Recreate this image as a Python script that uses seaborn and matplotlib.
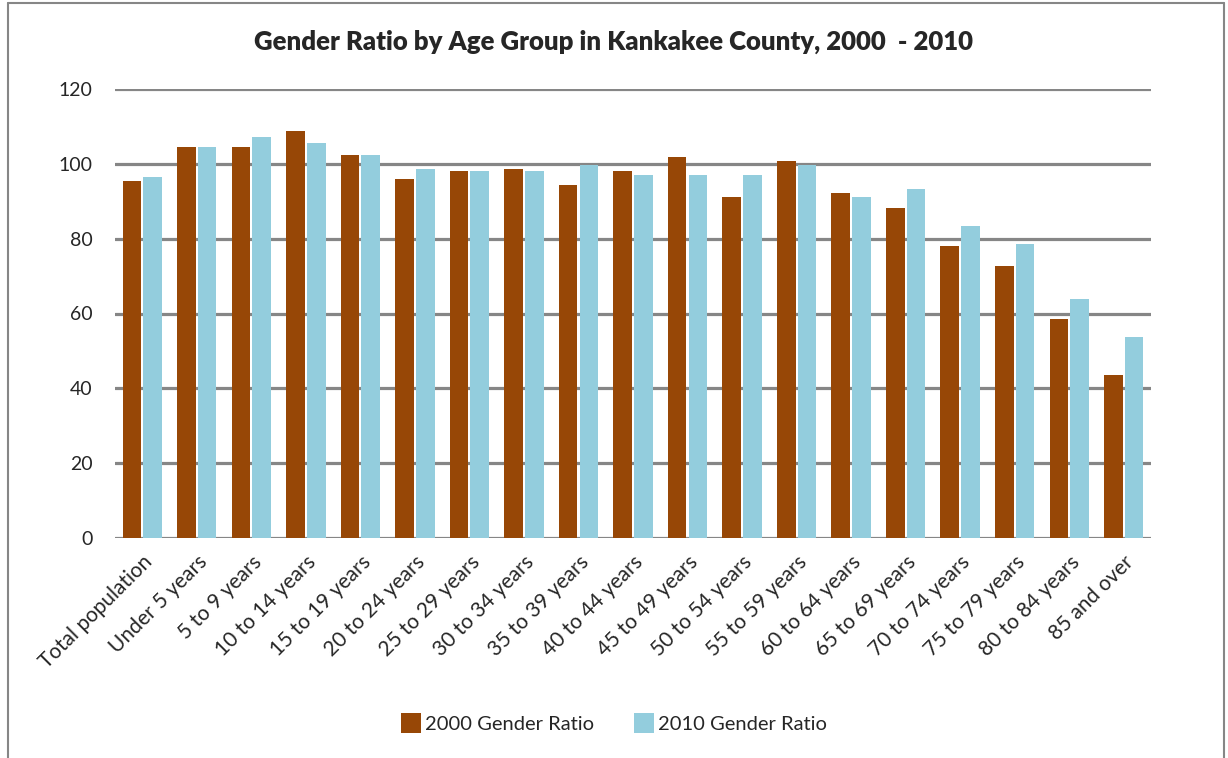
import pandas as pd
import matplotlib.pyplot as plt
import seaborn as sns
from matplotlib.lines import Line2D

# 數據
age_groups = ['Total population', 'Under 5 years', '5 to 9 years', '10 to 14 years',
              '15 to 19 years', '20 to 24 years', '25 to 29 years', '30 to 34 years',
              '35 to 39 years', '40 to 44 years', '45 to 49 years', '50 to 54 years',
              '55 to 59 years', '60 to 64 years', '65 to 69 years', '70 to 74 years',
              '75 to 79 years', '80 to 84 years', '85 and over']
ratio_2000 = [95.5, 104.4, 104.4, 108.7, 102.3, 96.0, 98.1, 98.7, 94.4, 98.1,
              101.9, 91.2, 100.8, 92.3, 88.1, 78.1, 72.8, 58.6, 43.5]
ratio_2010 = [96.5, 104.4, 107.1, 105.5, 102.3, 98.7, 98.1, 98.1, 99.7, 97.1,
              97.1, 97.1, 99.7, 91.2, 93.3, 83.4, 78.6, 63.8, 53.7]
series_names = ['2000 Gender Ratio', '2010 Gender Ratio']
colors = ['#974706', '#93CDDD']
y_ticks = [0, 20, 40, 60, 80, 100, 120]

df = pd.DataFrame({
    'Age': age_groups * 2,
    'Ratio': ratio_2000 + ratio_2010,
    'Series': [series_names[0]] * len(age_groups) + [series_names[1]] * len(age_groups),
})

sns.set_style('white')
plt.rcParams['font.family'] = ['Lato', 'DejaVu Sans']

fig = plt.figure(figsize=(12.28, 7.58), dpi=100)
ax = fig.add_axes([115 / 1228, 1 - 538 / 758, (1151 - 115) / 1228, (538 - 89) / 758])

sns.barplot(data=df, x='Age', y='Ratio', hue='Series', order=age_groups,
            palette=colors, width=0.76, gap=0.1, ax=ax, legend=False,
            saturation=1, linewidth=0)

# 設置座標軸
ax.set_ylim(0, 120)
ax.set_xlim(-0.5, len(age_groups) - 0.5)
ax.set_yticks(y_ticks)
ax.set_yticklabels([str(t) for t in y_ticks], fontsize=14)
ax.tick_params(axis='y', length=0, pad=16)
ax.tick_params(axis='x', length=0, pad=10)
ax.set_xticks(range(len(age_groups)))
ax.set_xticklabels(age_groups, rotation=45, ha='right', rotation_mode='anchor', fontsize=15)
ax.set_xlabel('')
ax.set_ylabel('')
for s in ax.spines.values():
    s.set_visible(False)
ax.grid(axis='y', color='#868686', linewidth=2.3)
ax.set_axisbelow(True)

# 標題
fig.text(0.5, 1 - 42 / 758, 'Gender Ratio by Age Group in Kankakee County, 2000  - 2010',
         ha='center', va='center', fontsize=18.5, fontweight='heavy')

# 圖例
handles = [Line2D([0], [0], marker='s', linestyle='', markersize=14,
                  markerfacecolor=c, markeredgewidth=0) for c in colors]
fig.legend(handles, series_names, loc='center', bbox_to_anchor=(0.5, 1 - 724 / 758),
           ncol=2, frameon=False, fontsize=14.5, handletextpad=0.2, columnspacing=2.0,
           handlelength=1.0)

# 外框
fig.add_artist(Line2D([8 / 1228, 8 / 1228], [0, 1 - 3 / 758], transform=fig.transFigure,
                      color='#868686', linewidth=1.5))
fig.add_artist(Line2D([8 / 1228, 1224 / 1228], [1 - 3 / 758, 1 - 3 / 758],
                      transform=fig.transFigure, color='#868686', linewidth=1.5))
fig.add_artist(Line2D([1224 / 1228, 1224 / 1228], [0, 1 - 3 / 758], transform=fig.transFigure,
                      color='#868686', linewidth=1.5))

fig.savefig('out.png', dpi=100)
